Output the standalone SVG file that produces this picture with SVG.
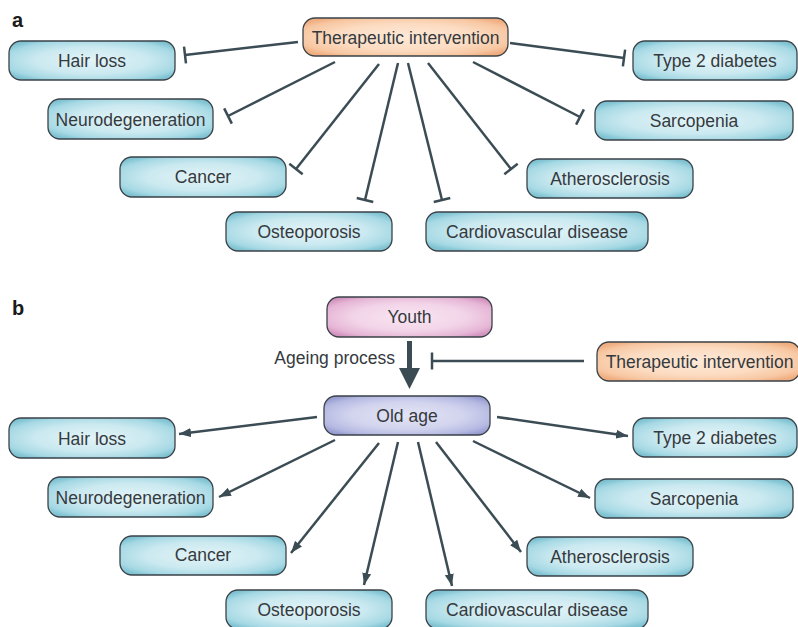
<svg xmlns="http://www.w3.org/2000/svg" width="798" height="627" viewBox="0 0 798 627">
<defs>
<radialGradient id="gBlue" cx="50%" cy="50%" r="62%">
<stop offset="0" stop-color="#e2f4f8"/><stop offset="0.55" stop-color="#cbe9f0"/><stop offset="0.85" stop-color="#a6d9e4"/><stop offset="1" stop-color="#7fc2d2"/>
</radialGradient>
<radialGradient id="gOrange" cx="50%" cy="50%" r="62%">
<stop offset="0" stop-color="#fee9d8"/><stop offset="0.55" stop-color="#fcdcc2"/><stop offset="0.85" stop-color="#f7c7a2"/><stop offset="1" stop-color="#f0ad80"/>
</radialGradient>
<radialGradient id="gPink" cx="50%" cy="50%" r="62%">
<stop offset="0" stop-color="#f9e6f2"/><stop offset="0.55" stop-color="#f2d4e8"/><stop offset="0.85" stop-color="#e6b6d6"/><stop offset="1" stop-color="#d294bf"/>
</radialGradient>
<radialGradient id="gLav" cx="50%" cy="50%" r="62%">
<stop offset="0" stop-color="#e3e4f5"/><stop offset="0.55" stop-color="#d2d4ee"/><stop offset="0.85" stop-color="#b6bae2"/><stop offset="1" stop-color="#979dd1"/>
</radialGradient>
<marker id="tbar" viewBox="-2 -10 4 20" markerWidth="4" markerHeight="20" refX="0" refY="0" orient="auto" markerUnits="userSpaceOnUse">
<path d="M0,-8.5 V8.5" stroke="#3c4c55" stroke-width="2.5" fill="none"/>
</marker>
<marker id="arr" viewBox="0 -5 12 10" markerWidth="12" markerHeight="10" refX="12" refY="0" orient="auto" markerUnits="userSpaceOnUse">
<path d="M0,-4.5 L12,0 L0,4.5 z" fill="#3c4c55"/>
</marker>
</defs>
<style>
.box{stroke:#3a4248;stroke-width:1.3}
.blue{fill:url(#gBlue)}
.orange{fill:url(#gOrange)}
.pink{fill:url(#gPink)}
.lav{fill:url(#gLav)}
text{font-family:"Liberation Sans",Arial,sans-serif;font-size:17.5px;fill:#353a3e}
.lbl{text-anchor:middle}
.panel{font-weight:bold;font-size:20px;fill:#1a1a1a}
.inh{stroke:#3c4c55;stroke-width:2.5;fill:none;marker-end:url(#tbar)}
.act{stroke:#3c4c55;stroke-width:2.5;fill:none;marker-end:url(#arr)}
</style>

<text class="panel" x="12" y="27">a</text>
<text class="panel" x="12" y="315">b</text>

<g id="connectors-a">
<line class="inh" x1="298" y1="42" x2="185" y2="55"/>
<line class="inh" x1="335" y1="62" x2="228" y2="116"/>
<line class="inh" x1="379" y1="64" x2="296" y2="169"/>
<line class="inh" x1="398" y1="63" x2="365" y2="200"/>
<line class="inh" x1="408" y1="63" x2="442" y2="200"/>
<line class="inh" x1="428" y1="63" x2="511" y2="169"/>
<line class="inh" x1="473" y1="62" x2="580" y2="117"/>
<line class="inh" x1="510" y1="43" x2="624" y2="58"/>
</g>

<g id="a-therapy"><rect class="box orange" x="303" y="18" width="205" height="38" rx="12"/><text class="lbl" x="405.5" y="43.5">Therapeutic intervention</text></g>
<g id="a-hairloss"><rect class="box blue" x="9" y="41" width="166" height="39" rx="12"/><text class="lbl" x="92" y="67">Hair loss</text></g>
<g id="a-neuro"><rect class="box blue" x="48" y="99" width="165" height="40" rx="12"/><text class="lbl" x="130.5" y="125.5">Neurodegeneration</text></g>
<g id="a-cancer"><rect class="box blue" x="120" y="157" width="166" height="40" rx="12"/><text class="lbl" x="203" y="183">Cancer</text></g>
<g id="a-osteo"><rect class="box blue" x="226" y="212" width="166" height="39" rx="12"/><text class="lbl" x="309" y="238">Osteoporosis</text></g>
<g id="a-diabetes"><rect class="box blue" x="633" y="41" width="164" height="39" rx="12"/><text class="lbl" x="715" y="66.5">Type 2 diabetes</text></g>
<g id="a-sarco"><rect class="box blue" x="595" y="101" width="198" height="39" rx="12"/><text class="lbl" x="694" y="127">Sarcopenia</text></g>
<g id="a-athero"><rect class="box blue" x="527" y="159" width="166" height="39" rx="12"/><text class="lbl" x="610" y="185">Atherosclerosis</text></g>
<g id="a-cardio"><rect class="box blue" x="426" y="212" width="222" height="39" rx="12"/><text class="lbl" x="537" y="238">Cardiovascular disease</text></g>

<g id="connectors-b">
<line x1="409.5" y1="341" x2="409.5" y2="370" stroke="#3c4c55" stroke-width="5"/>
<path d="M399,368 L420,368 L409.5,389 z" fill="#3c4c55"/>
<line class="inh" x1="584" y1="361" x2="432" y2="361"/>
<line class="act" x1="317" y1="417" x2="179" y2="434"/>
<line class="act" x1="335" y1="440" x2="219" y2="497"/>
<line class="act" x1="379" y1="443" x2="291" y2="553"/>
<line class="act" x1="398" y1="442" x2="364" y2="585"/>
<line class="act" x1="418" y1="442" x2="452" y2="586"/>
<line class="act" x1="436" y1="442" x2="521" y2="552"/>
<line class="act" x1="473" y1="441" x2="590" y2="498"/>
<line class="act" x1="497" y1="417" x2="628" y2="436"/>
</g>

<text id="ageing-label" x="395" y="364" text-anchor="end">Ageing process</text>

<g id="b-youth"><rect class="box pink" x="327" y="297" width="165" height="40" rx="12"/><text class="lbl" x="409.5" y="323">Youth</text></g>
<g id="b-therapy"><rect class="box orange" x="597" y="342" width="203" height="39" rx="12"/><text class="lbl" x="699.5" y="368">Therapeutic intervention</text></g>
<g id="b-oldage"><rect class="box lav" x="324" y="396" width="166" height="39" rx="12"/><text class="lbl" x="407" y="422">Old age</text></g>
<g id="b-hairloss"><rect class="box blue" x="9" y="418" width="166" height="40" rx="12"/><text class="lbl" x="92" y="444.5">Hair loss</text></g>
<g id="b-neuro"><rect class="box blue" x="48" y="477" width="165" height="40" rx="12"/><text class="lbl" x="130.5" y="503.5">Neurodegeneration</text></g>
<g id="b-cancer"><rect class="box blue" x="120" y="536" width="166" height="39" rx="12"/><text class="lbl" x="203" y="561">Cancer</text></g>
<g id="b-osteo"><rect class="box blue" x="226" y="590" width="166" height="39" rx="12"/><text class="lbl" x="309" y="616">Osteoporosis</text></g>
<g id="b-diabetes"><rect class="box blue" x="633" y="418" width="164" height="39" rx="12"/><text class="lbl" x="715" y="444">Type 2 diabetes</text></g>
<g id="b-sarco"><rect class="box blue" x="595" y="479" width="198" height="39" rx="12"/><text class="lbl" x="694" y="505">Sarcopenia</text></g>
<g id="b-athero"><rect class="box blue" x="527" y="537" width="166" height="39" rx="12"/><text class="lbl" x="610" y="563">Atherosclerosis</text></g>
<g id="b-cardio"><rect class="box blue" x="426" y="590" width="222" height="39" rx="12"/><text class="lbl" x="537" y="616">Cardiovascular disease</text></g>
</svg>
